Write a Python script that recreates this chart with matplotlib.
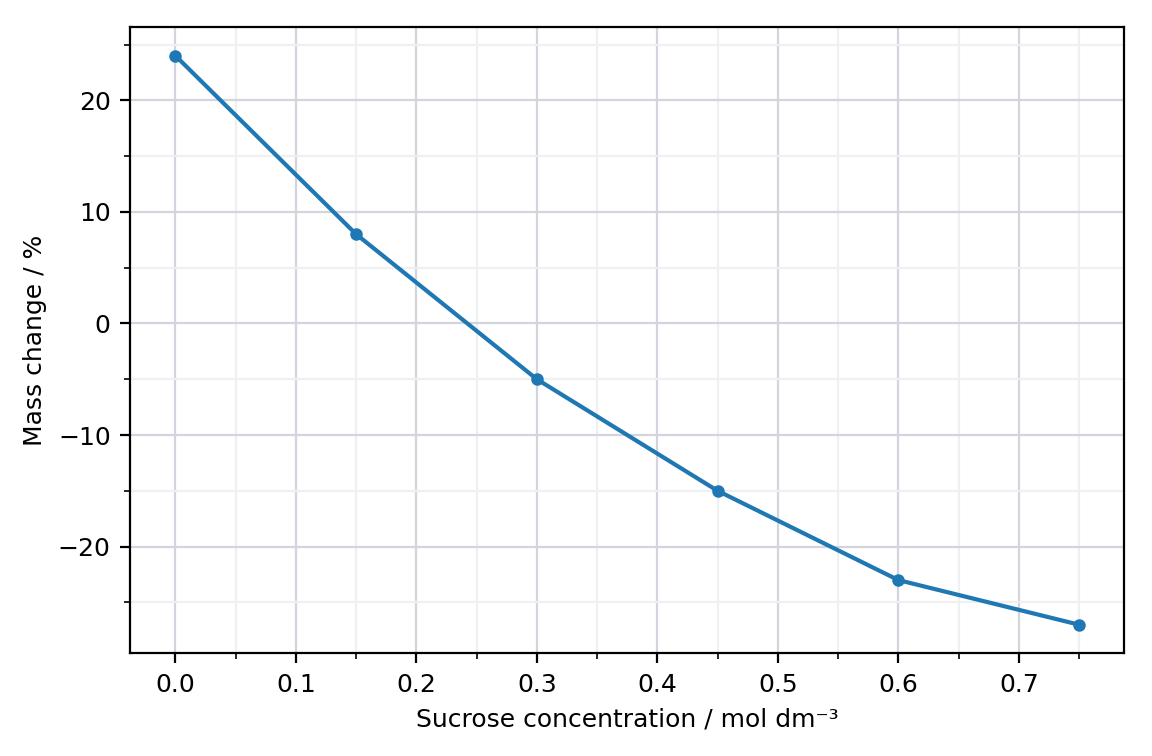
import numpy as np
import matplotlib
matplotlib.use("Agg")
import matplotlib.pyplot as plt
from matplotlib.ticker import MultipleLocator

plt.rcParams['font.size'] = 9

# sucrose concentration (mol dm^-3) and mass change (%)
conc = [0.0, 0.15, 0.30, 0.45, 0.60, 0.75]
mass_change = [24, 8, -5, -15, -23, -27]

fig, ax = plt.subplots(figsize=(5.76, 3.78), dpi=200)
fig.subplots_adjust(left=0.113, right=0.976, top=0.964, bottom=0.136)

ax.plot(conc, mass_change, '-o', color='#1f77b4', linewidth=1.5, markersize=3.5)

# grid and minor ticks
ax.xaxis.set_minor_locator(MultipleLocator(0.05))
ax.yaxis.set_minor_locator(MultipleLocator(5))
ax.grid(which='major', color='#d2d5dd', linewidth=0.8)
ax.grid(which='minor', color='#eff0f2', linewidth=0.8)
ax.set_axisbelow(True)

ax.set_xlabel("Sucrose concentration / mol dm⁻³")
ax.set_ylabel("Mass change / %")

plt.savefig("out.png", dpi=200)
